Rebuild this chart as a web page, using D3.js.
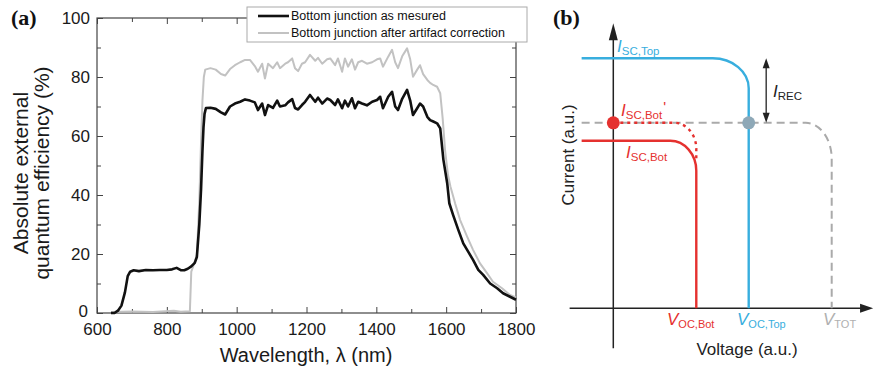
<!DOCTYPE html>
<html>
<head>
<meta charset="utf-8">
<script src="https://cdn.jsdelivr.net/npm/d3@7"></script>
<style>
  body { margin: 0; background: #fff; }
  svg { display: block; font-family: "Liberation Sans", Arial, sans-serif; }
</style>
</head>
<body>
<div id="chart"></div>
<script>
// ---- panel (a) data: EQE of the bottom junction ----
const wlMeasured = [640, 650, 660, 670, 680, 688, 695, 705, 720, 740, 760, 780, 800, 815, 828, 840, 850, 860, 870, 880,
  886, 893, 898, 902, 905, 908, 912, 925, 940, 955, 967, 981, 995, 1010, 1024, 1038, 1052, 1061, 1073, 1081,
  1090, 1104, 1116, 1124, 1139, 1147, 1159, 1167, 1176, 1187, 1196, 1210, 1225, 1233, 1245, 1259, 1268, 1282, 1290, 1302,
  1310, 1319, 1330, 1339, 1348, 1359, 1373, 1388, 1402, 1411, 1419, 1434, 1445, 1454, 1462, 1474, 1488, 1497, 1505, 1517,
  1525, 1534, 1546, 1554, 1563, 1574, 1583, 1592, 1603, 1609, 1620, 1635, 1649, 1663, 1677, 1692, 1706, 1726, 1746, 1763,
  1783, 1800];
const eqeMeasured = [0, 0, 0.8, 2.5, 7, 12.5, 14, 14.5, 14.2, 14.6, 14.5, 14.6, 14.6, 14.8, 15.3, 14.5, 14.5, 15, 15.8, 17,
  19, 30, 42, 55, 63, 67.5, 69.5, 69.6, 69.2, 68, 67.3, 70, 71, 71.6, 72.4, 72, 71.4, 68.8, 71, 67.1,
  70.5, 69.5, 72, 70, 70.4, 71.4, 72.5, 69.5, 69, 70.5, 71.6, 73.9, 71.6, 73, 71, 72.7, 72.2, 70.5, 72.4, 69.4,
  72, 70, 72.8, 69.4, 71.6, 71, 70.4, 71.6, 72.2, 73.3, 69.4, 73.3, 75, 70, 68.8, 72.6, 75.6, 72, 67.1, 69.4,
  71, 70, 66.5, 65.4, 64.9, 64.3, 62.6, 52, 44, 37.2, 33.2, 28.1, 23.6, 20.8, 18, 14.6, 12.9, 10, 8.4, 6.7,
  5.5, 4.5];

const wlCorrected = [640, 700, 760, 820, 840, 866, 870, 876, 886, 893, 898, 902, 906, 910, 925, 940, 955, 967, 981, 995,
  1010, 1024, 1038, 1052, 1061, 1073, 1081, 1090, 1104, 1116, 1124, 1139, 1147, 1159, 1167, 1176, 1187, 1196, 1210, 1225,
  1233, 1245, 1259, 1268, 1282, 1290, 1302, 1310, 1319, 1330, 1339, 1348, 1359, 1373, 1388, 1402, 1411, 1419, 1434, 1445,
  1454, 1462, 1474, 1488, 1497, 1505, 1517, 1525, 1534, 1546, 1554, 1563, 1574, 1583, 1590, 1597, 1605, 1612, 1626, 1640,
  1660, 1677, 1697, 1717, 1734, 1760, 1783, 1800];
const eqeCorrected = [0.3, 0.5, 0.3, 0.8, 0.4, 0.6, 14, 16, 19.6, 38, 58, 72, 80, 82.5, 83, 82.5, 81, 80.5, 82.7, 84,
  85, 85.8, 85.8, 83.7, 81.8, 84.5, 79.5, 84.5, 83, 85, 83, 84.5, 85, 86.3, 83, 82, 84.5, 85, 87.5, 85.5,
  86.5, 84.5, 86, 86.3, 84, 86.3, 81.8, 86.3, 83.5, 86, 82.5, 85, 85.5, 84.5, 85, 86, 86.3, 83.5, 86.9, 89.2,
  85, 83, 87, 89.7, 86, 80.1, 82.5, 84, 81, 79, 78, 77.3, 76.7, 74.5, 66, 55, 47, 43, 37, 31.5,
  25.9, 21.4, 16.8, 13.5, 10.6, 8.4, 6.1, 5.3];

const seriesNames = ["Bottom junction as mesured", "Bottom junction after artifact correction"];
const xTicksA = [600, 800, 1000, 1200, 1400, 1600, 1800];
const xMinorA = [700, 900, 1100, 1300, 1500, 1700];
const yTicksA = [0, 20, 40, 60, 80, 100];
const yMinorA = [10, 30, 50, 70, 90];

// ---- panel (b) data: schematic J-V curves (arbitrary units) ----
const iscTop = 1.0, iscBot = 0.67, iscBotPrime = 0.742;
const vocBot = 0.38, vocTop = 0.62, vTot = 1.0;
const curveStart = -0.145;

const width = 874, height = 370;
const svg = d3.select("#chart").append("svg")
  .attr("width", width)
  .attr("height", height);

// ================= panel (a) =================
const x = d3.scaleLinear().domain([600, 1800]).range([97, 516]);
const y = d3.scaleLinear().domain([0, 100]).range([313, 18]);

const gA = svg.append("g");

function addAxis(axis, transform, labels) {
  const g = gA.append("g").attr("transform", transform).call(axis);
  g.select(".domain").remove();
  g.selectAll(".tick line").attr("stroke", "#444");
  g.selectAll("text").attr("font-size", 17).attr("fill", "#1a1a1a")
    .attr("font-family", "Liberation Sans, Arial, sans-serif");
  if (!labels) g.selectAll("text").remove();
  return g;
}

const fmt = d3.format("d");

// major + minor ticks on all four sides, pointing inward
addAxis(d3.axisBottom(x).tickValues(xTicksA).tickFormat(fmt).tickSize(-6).tickPadding(10), `translate(0,${y(0)})`, true);
addAxis(d3.axisBottom(x).tickValues(xMinorA).tickSize(-4), `translate(0,${y(0)})`, false);
addAxis(d3.axisTop(x).tickValues(xTicksA).tickSize(-6), `translate(0,${y(100)})`, false);
addAxis(d3.axisTop(x).tickValues(xMinorA).tickSize(-4), `translate(0,${y(100)})`, false);
const yAxisG = addAxis(d3.axisLeft(y).tickValues(yTicksA).tickFormat(fmt).tickSize(-6).tickPadding(7), `translate(${x(600)},0)`, true);
addAxis(d3.axisLeft(y).tickValues(yMinorA).tickSize(-4), `translate(${x(600)},0)`, false);
addAxis(d3.axisRight(y).tickValues(yTicksA).tickSize(-6), `translate(${x(1800)},0)`, false);
addAxis(d3.axisRight(y).tickValues(yMinorA).tickSize(-4), `translate(${x(1800)},0)`, false);

// the "0" label sits a touch higher and further left, clear of "600"
yAxisG.selectAll(".tick").filter(d => d === 0).select("text").attr("y", -2).attr("x", -9);

gA.append("rect")
  .attr("x", x(600)).attr("y", y(100))
  .attr("width", x(1800) - x(600)).attr("height", y(0) - y(100))
  .attr("fill", "none").attr("stroke", "#444").attr("stroke-width", 1.2);

const line = d3.line().x(d => x(d[0])).y(d => y(d[1]));

gA.append("path")
  .datum(d3.zip(wlCorrected, eqeCorrected))
  .attr("d", line)
  .attr("fill", "none").attr("stroke", "#c2c2c2").attr("stroke-width", 2).attr("stroke-linejoin", "round");

gA.append("path")
  .datum(d3.zip(wlMeasured, eqeMeasured))
  .attr("d", line)
  .attr("fill", "none").attr("stroke", "#111").attr("stroke-width", 2.6).attr("stroke-linejoin", "round");

// legend
const leg = gA.append("g");
leg.append("rect")
  .attr("x", 247).attr("y", 7).attr("width", 280).attr("height", 35)
  .attr("fill", "#fff").attr("stroke", "#aaa").attr("stroke-width", 1);
const legColors = ["#111", "#c2c2c2"];
const legWidths = [2.6, 2];
seriesNames.forEach((name, i) => {
  const ly = 16 + i * 17;
  leg.append("line").attr("x1", 258).attr("x2", 289).attr("y1", ly).attr("y2", ly)
    .attr("stroke", legColors[i]).attr("stroke-width", legWidths[i]);
  leg.append("text").attr("x", 291).attr("y", ly).attr("dy", "0.35em")
    .attr("font-size", 12.5).attr("fill", "#111").text(name);
});

// axis titles
gA.append("text")
  .attr("x", 306).attr("y", 362)
  .attr("text-anchor", "middle").attr("font-size", 20).attr("fill", "#1a1a1a")
  .text("Wavelength, λ (nm)");

gA.append("text")
  .attr("transform", "translate(28,173) rotate(-90)")
  .attr("text-anchor", "middle").attr("font-size", 21).attr("fill", "#1a1a1a")
  .text("Absolute external");
gA.append("text")
  .attr("transform", "translate(49,173) rotate(-90)")
  .attr("text-anchor", "middle").attr("font-size", 21).attr("fill", "#1a1a1a")
  .text("quantum efficiency (%)");

gA.append("text")
  .attr("x", 11).attr("y", 25)
  .attr("font-family", "Liberation Serif, Times New Roman, serif")
  .attr("font-weight", "bold").attr("font-size", 22).attr("fill", "#111")
  .text("(a)");

// ================= panel (b) =================
const vx = d3.scaleLinear().domain([0, vTot]).range([613.3, 831.7]);
const iy = d3.scaleLinear().domain([0, iscTop]).range([308.3, 58.3]);

const gB = svg.append("g");

const blue = "#38aede", red = "#e5312f", grey = "#aaaaaa";

// rounded-corner J-V curve: horizontal at isc, bends down to vertical at voc
function jvPath(v0, voc, isc, iEnd, rx, ry) {
  const k = 0.552;
  const xv = vx(voc), yi = iy(isc);
  const p = d3.path();
  p.moveTo(vx(v0), yi);
  p.lineTo(xv - rx, yi);
  p.bezierCurveTo(xv - rx + k * rx, yi, xv, yi + ry - k * ry, xv, yi + ry);
  p.lineTo(xv, iy(iEnd));
  return p.toString();
}

// axes with arrows
gB.append("line")
  .attr("x1", vx(0)).attr("x2", vx(0)).attr("y1", iy(-0.16)).attr("y2", iy(1.08))
  .attr("stroke", "#222").attr("stroke-width", 1.5);
gB.append("path")
  .attr("d", `M${vx(0)},${iy(1.14)} L${vx(0) - 4.5},${iy(1.08) + 2} L${vx(0) + 4.5},${iy(1.08) + 2} Z`)
  .attr("fill", "#222");
gB.append("line")
  .attr("x1", vx(-0.2)).attr("x2", vx(1.14)).attr("y1", iy(0)).attr("y2", iy(0))
  .attr("stroke", "#222").attr("stroke-width", 1.5);
gB.append("path")
  .attr("d", `M${vx(1.19)},${iy(0)} L${vx(1.13)},${iy(0) - 4.5} L${vx(1.13)},${iy(0) + 4.5} Z`)
  .attr("fill", "#222");

// total (series) curve, dashed grey
gB.append("path")
  .attr("d", jvPath(curveStart, vTot, iscBotPrime, 0, 26, 36))
  .attr("fill", "none").attr("stroke", grey).attr("stroke-width", 2)
  .attr("stroke-dasharray", "8,5");

// bottom cell, measured
gB.append("path")
  .attr("d", jvPath(curveStart, vocBot, iscBot, 0, 26, 30))
  .attr("fill", "none").attr("stroke", red).attr("stroke-width", 2.4);

// bottom cell, corrected (dotted)
gB.append("path")
  .attr("d", jvPath(0, vocBot, iscBotPrime, 0.59, 22, 26))
  .attr("fill", "none").attr("stroke", red).attr("stroke-width", 2.4)
  .attr("stroke-dasharray", "3,4");

// top cell
gB.append("path")
  .attr("d", jvPath(curveStart, vocTop, iscTop, 0, 36, 30))
  .attr("fill", "none").attr("stroke", blue).attr("stroke-width", 2.4);

// markers
gB.append("circle").attr("cx", vx(0)).attr("cy", iy(iscBotPrime)).attr("r", 6.5).attr("fill", red);
gB.append("circle").attr("cx", vx(vocTop)).attr("cy", iy(iscBotPrime)).attr("r", 6.5).attr("fill", "#8ea8b7");

// I_REC double arrow
const xRec = vx(0.70);
gB.append("line")
  .attr("x1", xRec).attr("x2", xRec).attr("y1", iy(iscTop) + 8).attr("y2", iy(iscBotPrime) - 8)
  .attr("stroke", "#222").attr("stroke-width", 1.3);
gB.append("path")
  .attr("d", `M${xRec},${iy(iscTop)} L${xRec - 3.5},${iy(iscTop) + 10} L${xRec + 3.5},${iy(iscTop) + 10} Z`)
  .attr("fill", "#222");
gB.append("path")
  .attr("d", `M${xRec},${iy(iscBotPrime)} L${xRec - 3.5},${iy(iscBotPrime) - 10} L${xRec + 3.5},${iy(iscBotPrime) - 10} Z`)
  .attr("fill", "#222");

// labels with italic symbol + subscript
function symLabel(xp, yp, sym, sub, color, size, subSize, prime) {
  const t = gB.append("text").attr("x", xp).attr("y", yp).attr("fill", color)
    .attr("font-size", size);
  t.append("tspan").attr("font-style", "italic").text(sym);
  t.append("tspan").attr("font-size", subSize).attr("dy", 3).text(sub);
  if (prime) t.append("tspan").attr("font-size", 15).attr("dy", -7).attr("dx", 1).text(prime);
  return t;
}

symLabel(617, 52, "I", "SC,Top", blue, 17, 11.5);
symLabel(621, 116, "I", "SC,Bot", red, 17, 11.5, "'");
symLabel(626, 158, "I", "SC,Bot", red, 17, 11.5);
symLabel(773, 97, "I", "REC", "#222", 17, 11.5);
symLabel(667, 325, "V", "OC,Bot", red, 17, 11);
symLabel(737, 325, "V", "OC,Top", blue, 17, 11);
symLabel(823, 325, "V", "TOT", "#b0b0b0", 17, 11);

gB.append("text")
  .attr("x", 747).attr("y", 355)
  .attr("text-anchor", "middle").attr("font-size", 17).attr("fill", "#222")
  .text("Voltage (a.u.)");
gB.append("text")
  .attr("transform", "translate(574,155) rotate(-90)")
  .attr("text-anchor", "middle").attr("font-size", 17).attr("fill", "#222")
  .text("Current (a.u.)");

gB.append("text")
  .attr("x", 553).attr("y", 25)
  .attr("font-family", "Liberation Serif, Times New Roman, serif")
  .attr("font-weight", "bold").attr("font-size", 22).attr("fill", "#111")
  .text("(b)");
</script>
</body>
</html>
